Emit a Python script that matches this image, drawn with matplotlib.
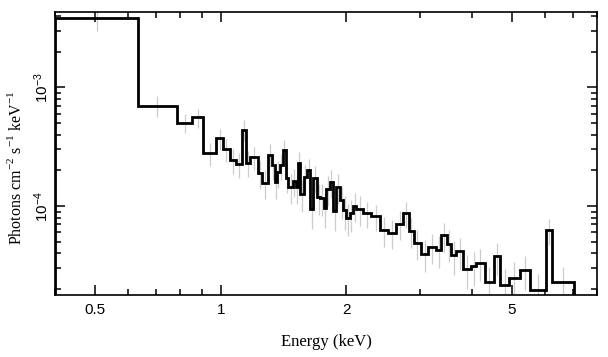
import numpy as np
import matplotlib
matplotlib.use("Agg")
import matplotlib.pyplot as plt
from matplotlib.ticker import FixedLocator, FixedFormatter, NullFormatter, LogLocator

# bin edges (keV)
edges = [0.400, 0.633, 0.783, 0.855, 0.907, 0.976, 1.013, 1.051, 1.086, 1.123,
         1.148, 1.174, 1.229, 1.259, 1.299, 1.325, 1.347, 1.365, 1.385, 1.411,
         1.432, 1.450, 1.491, 1.513, 1.532, 1.553, 1.581, 1.611, 1.641, 1.665,
         1.702, 1.734, 1.766, 1.793, 1.825, 1.859, 1.894, 1.937, 1.965, 2.002,
         2.039, 2.076, 2.115, 2.194, 2.298, 2.406, 2.518, 2.638, 2.736, 2.828,
         2.903, 3.029, 3.142, 3.291, 3.383, 3.489, 3.575, 3.675, 3.812, 3.993,
         4.105, 4.297, 4.515, 4.685, 4.913, 5.212, 5.508, 6.017, 6.244, 7.036]

# unfolded flux per bin (photons cm^-2 s^-1 keV^-1)
flux = [3.86e-3, 7.01e-4, 5.05e-4, 5.60e-4, 2.81e-4, 3.73e-4, 3.04e-4, 2.45e-4,
        2.27e-4, 4.41e-4, 2.33e-4, 2.58e-4, 1.89e-4, 1.58e-4, 2.72e-4, 2.20e-4,
        1.59e-4, 1.92e-4, 2.20e-4, 2.98e-4, 1.73e-4, 1.46e-4, 1.62e-4, 1.46e-4,
        2.30e-4, 1.27e-4, 1.75e-4, 2.00e-4, 9.51e-5, 1.73e-4, 1.19e-4, 1.18e-4,
        9.69e-5, 1.40e-4, 1.59e-4, 9.08e-5, 1.46e-4, 1.12e-4, 9.20e-5, 7.99e-5,
        8.69e-5, 1.01e-4, 9.47e-5, 8.73e-5, 8.19e-5, 6.33e-5, 5.98e-5, 7.11e-5,
        8.69e-5, 6.17e-5, 4.89e-5, 3.98e-5, 4.52e-5, 4.30e-5, 5.67e-5, 4.83e-5,
        3.85e-5, 4.16e-5, 2.94e-5, 3.13e-5, 3.32e-5, 2.29e-5, 3.78e-5, 2.18e-5,
        2.48e-5, 2.88e-5, 1.98e-5, 6.25e-5, 2.30e-5]

# relative 1-sigma errors, rough reading of the grey bars
rel_err = [0.22, 0.20, 0.18, 0.18, 0.22, 0.20, 0.22, 0.24, 0.24, 0.20,
           0.25, 0.22, 0.26, 0.28, 0.22, 0.25, 0.28, 0.26, 0.25, 0.22,
           0.26, 0.28, 0.27, 0.28, 0.24, 0.30, 0.27, 0.25, 0.32, 0.26,
           0.30, 0.30, 0.32, 0.28, 0.27, 0.32, 0.28, 0.30, 0.32, 0.30,
           0.30, 0.28, 0.28, 0.25, 0.25, 0.28, 0.28, 0.27, 0.25, 0.28,
           0.28, 0.30, 0.28, 0.30, 0.28, 0.30, 0.32, 0.30, 0.32, 0.32,
           0.30, 0.35, 0.30, 0.36, 0.35, 0.32, 0.36, 0.25, 0.32]

edges = np.array(edges)
flux = np.array(flux)
centers = np.sqrt(edges[:-1] * edges[1:])
yerr = flux * np.array(rel_err)

fig = plt.figure(figsize=(6.08, 3.57), dpi=100)
ax = fig.add_axes([0.0905, 0.1737, 0.8915, 0.7927])

ax.errorbar(centers, flux, yerr=yerr, fmt="none", ecolor="#cccccc",
            elinewidth=0.9, capsize=0, zorder=1)
ax.stairs(flux, edges, baseline=1e-6, color="black", linewidth=2.0, zorder=2)

ax.set_xscale("log")
ax.set_yscale("log")
ax.set_xlim(0.4, 8.0)
ax.set_ylim(1.78e-5, 4.33e-3)

ax.xaxis.set_major_locator(FixedLocator([0.5, 1, 2, 5]))
ax.xaxis.set_minor_locator(FixedLocator([0.4, 0.6, 0.7, 0.8, 0.9, 3, 4, 6, 7, 8]))
ax.xaxis.set_major_formatter(FixedFormatter(["0.5", "1", "2", "5"]))
ax.xaxis.set_minor_formatter(NullFormatter())
ax.yaxis.set_major_locator(LogLocator(base=10))
ax.yaxis.set_minor_locator(LogLocator(base=10, subs=np.arange(2, 10)))
ax.yaxis.set_minor_formatter(NullFormatter())

ax.tick_params(which="both", direction="in", top=True, right=True, width=1.1)
ax.tick_params(which="major", length=7, labelsize=11)
ax.tick_params(axis="x", which="major", pad=6)
ax.tick_params(axis="y", which="major", pad=3)
ax.tick_params(which="minor", length=4)
for lab in ax.get_xticklabels() + ax.get_yticklabels():
    lab.set_fontfamily("Liberation Sans")
for lab in ax.get_yticklabels():
    lab.set_rotation(90)
    lab.set_va("center")
for s in ax.spines.values():
    s.set_linewidth(1.2)

ax.set_xlabel("Energy (keV)", fontfamily="Liberation Serif", fontsize=12, labelpad=12)
ax.set_ylabel(r"Photons cm$^{\mathdefault{-2}}$ s$^{\mathdefault{-1}}$ keV$^{\mathdefault{-1}}$",
              fontfamily="Liberation Serif", fontsize=11.5)
ax.yaxis.set_label_coords(-0.056, 0.45)

fig.savefig("out.png", dpi=100)
